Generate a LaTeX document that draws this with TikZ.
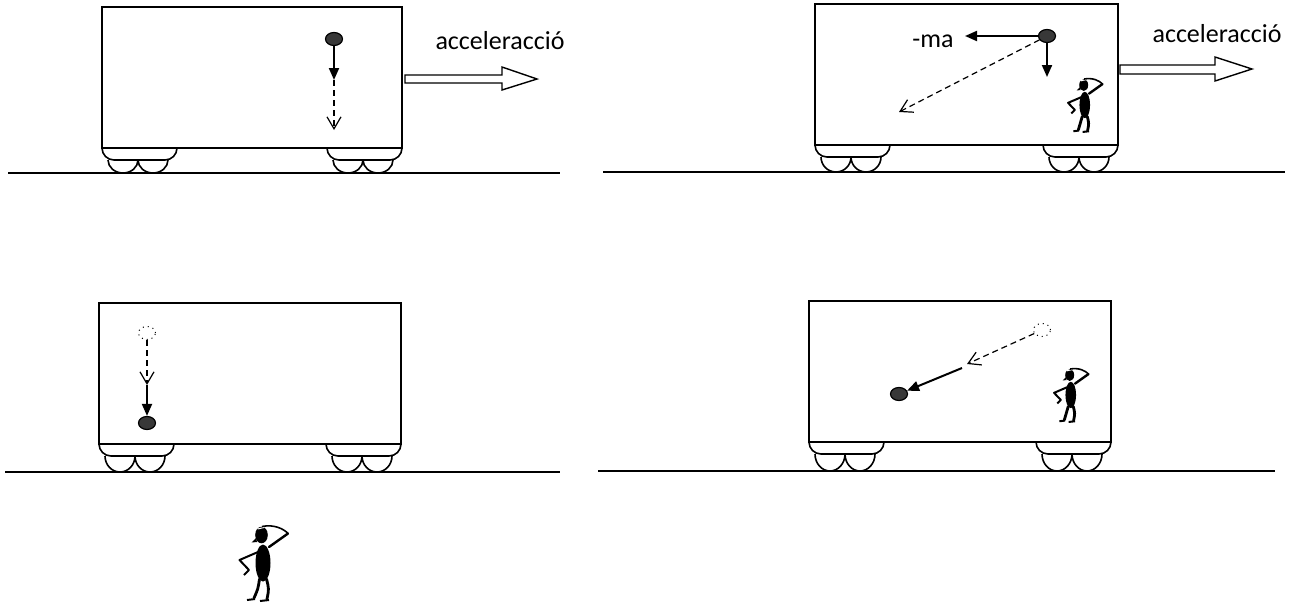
\documentclass[tikz,border=0pt]{standalone}
\usepackage{fontspec}
\setmainfont{Carlito}
\usetikzlibrary{arrows.meta,shapes.geometric}

\begin{document}
\begin{tikzpicture}[x=0.5pt, y=-0.5pt, font=\fontsize{13}{15}\selectfont]
\tikzset{ball/.style={ellipse,draw,line width=0.6pt,fill=black!78,minimum width=8.5pt,minimum height=6.5pt,inner sep=0},
ghost/.style={ellipse,draw,dotted,line width=0.5pt,minimum width=8.5pt,minimum height=6.5pt,inner sep=0},
force/.style={line width=1pt,-{Triangle[length=6pt,width=5pt]}},
fallpath/.style={line width=0.6pt,dash pattern=on 3pt off 2pt,-{Straight Barb[length=6pt,width=7pt]}},
bigarrow/.style={draw,line width=0.7pt,fill=white},
observer/.pic={
  % head and cap
  \fill (23.5,10) ellipse[x radius=6.3, y radius=8.3];
  \fill (18,13) -- (13.5,17.5) -- (19,17) -- cycle;
  \draw[white,line width=0.5pt] (19.5,4) -- (26,2.5);
  % hand on the head
  \draw[line width=0.8pt] (24,1.5) .. controls (36,-1) and (46,4) .. (50,8.5);
  \draw[line width=1.2pt,line cap=round] (50,8.5) -- (31,22);
  % body
  \fill (25,38) ellipse[x radius=7.5, y radius=18.5];
  % hand on the hip
  \draw[line width=1pt,line join=round] (20,27) -- (1.5,35) -- (11,45) -- (6,50);
  % legs and feet
  \draw[line width=1.4pt,line cap=round] (21.5,54) .. controls (20,64) .. (16,73) (28.5,54) .. controls (31,64) .. (29,74);
  \draw[line width=1pt] (9,75) -- (17,74) (22,76) -- (31,75);
}}

\useasboundingbox (0,0) rectangle (1295,605);

%% Wagons: box left/top/right/bottom, ground from/to/level
\foreach \l/\t/\r/\b/\gl/\gr/\g in {102/7/402/148/8/560/173, 815/4/1118/145/603/1285/172,
  99/303/401/444/5/560/472, 809/301/1111/442/598/1275/471}{
  \draw[line width=1pt] (\l,\t) rectangle (\r,\b);
  \draw[line width=0.8pt,rounded corners=6pt] (\l,\b) -- (\l,\b+12) -- (\l+75,\b+12) -- (\l+75,\b);
  \draw[line width=0.8pt,rounded corners=6pt] (\r-75,\b) -- (\r-75,\b+12) -- (\r,\b+12) -- (\r,\b);
  \foreach \c in {\l+21, \l+51, \r-54, \r-24}
    \draw[line width=0.8pt] (\c-15,\b+12) arc[start angle=180, end angle=0, x radius=15, y radius=\g-\b-12];
  \draw[line width=1.2pt] (\gl,\g) -- (\gr,\g);
}

%% Top left
\node (b1) [ball] at (334,39) {};
\coordinate (b1f) at (334,80);
\coordinate (b1g) at (334,130);
\draw[force] (b1) -- (b1f);
\draw[fallpath] (b1f) -- (b1g);
\draw[bigarrow] (405,75) -- (502,75) -- (502,67) -- (537,79) -- (502,90) -- (502,83) -- (405,83) -- cycle;
\node (acc1) [anchor=base] at (500,49) {acceleracció};

%% Top right
\node (b2) [ball] at (1047,36) {};
\coordinate (b2ma) at (965,36);
\coordinate (b2g) at (1047,77);
\coordinate (b2end) at (899,112);
\draw[force] (b2) -- (b2ma);
\draw[force] (b2) -- (b2g);
\draw[fallpath] (b2) -- (b2end);
\node (ma) [anchor=base] at (933,47) {-ma};
\draw[bigarrow] (1120,65) -- (1215,65) -- (1215,57) -- (1252,69) -- (1215,81) -- (1215,74) -- (1120,74) -- cycle;
\node (acc2) [anchor=base] at (1217,42) {acceleracció};
\pic[scale=0.71] at (1067,78) {observer};

%% Bottom left
\node (g3) [ghost] at (147,333) {};
\coordinate (g3v) at (147,385);
\node (b3) [ball] at (147,423) {};
\draw[fallpath] (g3) -- (g3v);
\draw[force] (g3v) -- (b3);
\pic at (238,525) {observer};

%% Bottom right
\node (g4) [ghost] at (1042,330) {};
\coordinate (g4v) at (967,364);
\coordinate (g4s) at (962,368);
\node (b4) [ball] at (899,394) {};
\draw[fallpath] (g4) -- (g4v);
\draw[force] (g4s) -- (b4);
\pic[scale=0.71] at (1053,368) {observer};

\end{tikzpicture}
\end{document}
